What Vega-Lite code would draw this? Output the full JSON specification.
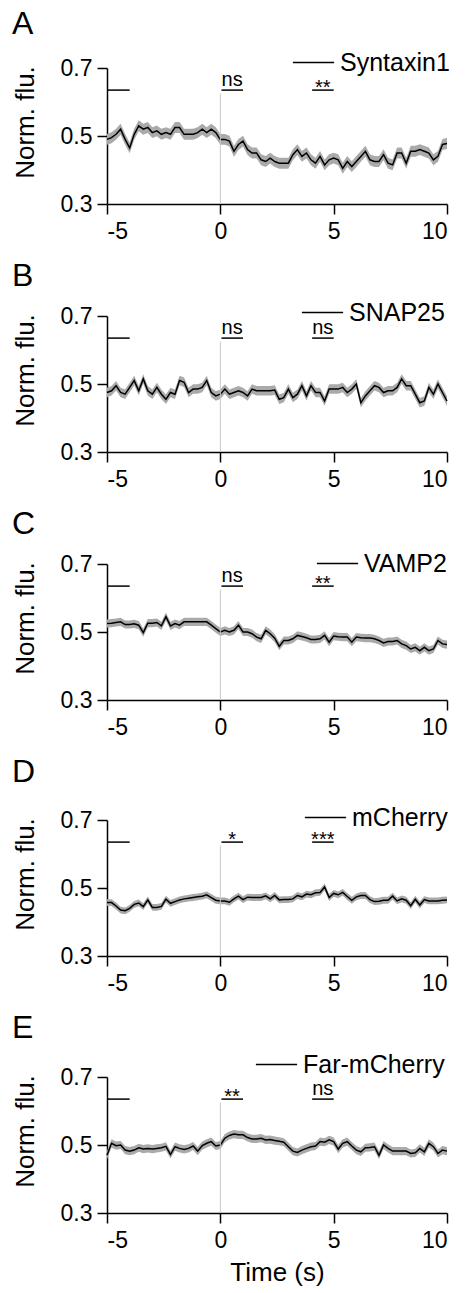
{
"$schema": "https://vega.github.io/schema/vega-lite/v6.json",
"background": "white",
"padding": {"left": 12, "top": 8, "right": 5, "bottom": 2},
"spacing": 17,
"config": {
  "font": "Liberation Sans",
  "view": {"stroke": null},
  "axis": {"grid": false, "domainColor": "black", "tickColor": "black", "domainWidth": 1.5, "tickWidth": 1.5, "tickSize": 10, "labelFontSize": 23, "labelColor": "black", "titleFontSize": 26, "titleFontWeight": "normal", "titleColor": "black", "labelFont": "Liberation Sans", "titleFont": "Liberation Sans"},
  "axisX": {"labelPadding": 6, "titlePadding": 7, "labelExpr": "'' + datum.value"},
  "axisY": {"labelPadding": 5, "titlePadding": 22},
  "title": {"fontSize": 32, "fontWeight": "normal", "anchor": "start", "color": "black", "font": "Liberation Sans", "frame": "bounds"},
  "legend": {"orient": "none", "symbolType": "stroke", "symbolSize": 1700, "symbolStrokeWidth": 1.5, "labelFontSize": 25, "labelFont": "Liberation Sans", "labelColor": "black", "padding": 0, "labelOffset": 5}
},
"resolve": {"scale": {"color": "independent"}, "legend": {"color": "independent"}},
"datasets": {
  "A": [{"t":-5,"m":0.49,"e":0.016},{"t":-4.8,"m":0.495,"e":0.016},{"t":-4.6,"m":0.505,"e":0.016},{"t":-4.4,"m":0.52,"e":0.016},{"t":-4.2,"m":0.49,"e":0.016},{"t":-4,"m":0.465,"e":0.016},{"t":-3.8,"m":0.505,"e":0.016},{"t":-3.6,"m":0.53,"e":0.016},{"t":-3.4,"m":0.52,"e":0.016},{"t":-3.2,"m":0.525,"e":0.016},{"t":-3,"m":0.51,"e":0.016},{"t":-2.8,"m":0.515,"e":0.016},{"t":-2.6,"m":0.505,"e":0.016},{"t":-2.4,"m":0.51,"e":0.016},{"t":-2.2,"m":0.505,"e":0.016},{"t":-2,"m":0.525,"e":0.016},{"t":-1.8,"m":0.525,"e":0.016},{"t":-1.6,"m":0.505,"e":0.016},{"t":-1.4,"m":0.505,"e":0.016},{"t":-1.2,"m":0.505,"e":0.016},{"t":-1,"m":0.51,"e":0.016},{"t":-0.8,"m":0.52,"e":0.016},{"t":-0.6,"m":0.51,"e":0.016},{"t":-0.4,"m":0.52,"e":0.016},{"t":-0.2,"m":0.51,"e":0.016},{"t":0,"m":0.49,"e":0.016},{"t":0.2,"m":0.49,"e":0.016},{"t":0.4,"m":0.485,"e":0.016},{"t":0.6,"m":0.455,"e":0.016},{"t":0.8,"m":0.475,"e":0.016},{"t":1,"m":0.485,"e":0.016},{"t":1.2,"m":0.46,"e":0.016},{"t":1.4,"m":0.45,"e":0.016},{"t":1.6,"m":0.45,"e":0.016},{"t":1.8,"m":0.43,"e":0.016},{"t":2,"m":0.425,"e":0.016},{"t":2.2,"m":0.435,"e":0.016},{"t":2.4,"m":0.425,"e":0.016},{"t":2.6,"m":0.42,"e":0.016},{"t":2.8,"m":0.42,"e":0.016},{"t":3,"m":0.42,"e":0.016},{"t":3.2,"m":0.445,"e":0.016},{"t":3.4,"m":0.46,"e":0.016},{"t":3.6,"m":0.44,"e":0.016},{"t":3.8,"m":0.45,"e":0.016},{"t":4,"m":0.43,"e":0.016},{"t":4.2,"m":0.42,"e":0.016},{"t":4.4,"m":0.44,"e":0.016},{"t":4.6,"m":0.415,"e":0.016},{"t":4.8,"m":0.43,"e":0.016},{"t":5,"m":0.435,"e":0.016},{"t":5.2,"m":0.43,"e":0.016},{"t":5.4,"m":0.405,"e":0.016},{"t":5.6,"m":0.425,"e":0.016},{"t":5.8,"m":0.41,"e":0.016},{"t":6,"m":0.425,"e":0.016},{"t":6.2,"m":0.44,"e":0.016},{"t":6.4,"m":0.455,"e":0.016},{"t":6.6,"m":0.43,"e":0.016},{"t":6.8,"m":0.425,"e":0.016},{"t":7,"m":0.425,"e":0.016},{"t":7.2,"m":0.445,"e":0.016},{"t":7.4,"m":0.42,"e":0.016},{"t":7.6,"m":0.415,"e":0.016},{"t":7.8,"m":0.45,"e":0.016},{"t":8,"m":0.45,"e":0.016},{"t":8.2,"m":0.42,"e":0.016},{"t":8.4,"m":0.455,"e":0.016},{"t":8.6,"m":0.455,"e":0.016},{"t":8.8,"m":0.46,"e":0.016},{"t":9,"m":0.455,"e":0.016},{"t":9.2,"m":0.45,"e":0.016},{"t":9.4,"m":0.43,"e":0.016},{"t":9.6,"m":0.44,"e":0.016},{"t":9.8,"m":0.475,"e":0.016},{"t":10,"m":0.478,"e":0.016}],
  "B": [{"t":-5,"m":0.475,"e":0.014},{"t":-4.8,"m":0.48,"e":0.014},{"t":-4.6,"m":0.495,"e":0.014},{"t":-4.4,"m":0.475,"e":0.014},{"t":-4.2,"m":0.47,"e":0.014},{"t":-4,"m":0.49,"e":0.014},{"t":-3.8,"m":0.51,"e":0.014},{"t":-3.6,"m":0.48,"e":0.014},{"t":-3.4,"m":0.515,"e":0.014},{"t":-3.2,"m":0.48,"e":0.014},{"t":-3,"m":0.47,"e":0.014},{"t":-2.8,"m":0.49,"e":0.014},{"t":-2.6,"m":0.47,"e":0.014},{"t":-2.4,"m":0.455,"e":0.014},{"t":-2.2,"m":0.475,"e":0.014},{"t":-2,"m":0.47,"e":0.014},{"t":-1.8,"m":0.51,"e":0.014},{"t":-1.6,"m":0.505,"e":0.014},{"t":-1.4,"m":0.475,"e":0.014},{"t":-1.2,"m":0.485,"e":0.014},{"t":-1,"m":0.485,"e":0.014},{"t":-0.8,"m":0.49,"e":0.014},{"t":-0.6,"m":0.51,"e":0.014},{"t":-0.4,"m":0.475,"e":0.014},{"t":-0.2,"m":0.465,"e":0.014},{"t":0,"m":0.47,"e":0.014},{"t":0.2,"m":0.485,"e":0.014},{"t":0.4,"m":0.47,"e":0.014},{"t":0.6,"m":0.475,"e":0.014},{"t":0.8,"m":0.48,"e":0.014},{"t":1,"m":0.475,"e":0.014},{"t":1.2,"m":0.465,"e":0.014},{"t":1.4,"m":0.485,"e":0.014},{"t":1.6,"m":0.48,"e":0.014},{"t":1.8,"m":0.48,"e":0.014},{"t":2,"m":0.48,"e":0.014},{"t":2.2,"m":0.48,"e":0.014},{"t":2.4,"m":0.482,"e":0.014},{"t":2.6,"m":0.455,"e":0.014},{"t":2.8,"m":0.46,"e":0.014},{"t":3,"m":0.485,"e":0.014},{"t":3.2,"m":0.46,"e":0.014},{"t":3.4,"m":0.47,"e":0.014},{"t":3.6,"m":0.495,"e":0.014},{"t":3.8,"m":0.465,"e":0.014},{"t":4,"m":0.495,"e":0.014},{"t":4.2,"m":0.475,"e":0.014},{"t":4.4,"m":0.475,"e":0.014},{"t":4.6,"m":0.45,"e":0.014},{"t":4.8,"m":0.485,"e":0.014},{"t":5,"m":0.485,"e":0.014},{"t":5.2,"m":0.485,"e":0.014},{"t":5.4,"m":0.49,"e":0.014},{"t":5.6,"m":0.475,"e":0.014},{"t":5.8,"m":0.485,"e":0.014},{"t":6,"m":0.5,"e":0.014},{"t":6.2,"m":0.445,"e":0.014},{"t":6.4,"m":0.465,"e":0.014},{"t":6.6,"m":0.48,"e":0.014},{"t":6.8,"m":0.495,"e":0.014},{"t":7,"m":0.49,"e":0.014},{"t":7.2,"m":0.475,"e":0.014},{"t":7.4,"m":0.48,"e":0.014},{"t":7.6,"m":0.48,"e":0.014},{"t":7.8,"m":0.49,"e":0.014},{"t":8,"m":0.515,"e":0.014},{"t":8.2,"m":0.495,"e":0.014},{"t":8.4,"m":0.495,"e":0.014},{"t":8.6,"m":0.47,"e":0.014},{"t":8.8,"m":0.445,"e":0.014},{"t":9,"m":0.45,"e":0.014},{"t":9.2,"m":0.49,"e":0.014},{"t":9.4,"m":0.47,"e":0.014},{"t":9.6,"m":0.5,"e":0.014},{"t":9.8,"m":0.475,"e":0.014},{"t":10,"m":0.45,"e":0.014}],
  "C": [{"t":-5,"m":0.525,"e":0.012},{"t":-4.8,"m":0.526,"e":0.012},{"t":-4.6,"m":0.528,"e":0.012},{"t":-4.4,"m":0.53,"e":0.012},{"t":-4.2,"m":0.522,"e":0.012},{"t":-4,"m":0.522,"e":0.012},{"t":-3.8,"m":0.524,"e":0.012},{"t":-3.6,"m":0.52,"e":0.012},{"t":-3.4,"m":0.498,"e":0.012},{"t":-3.2,"m":0.526,"e":0.012},{"t":-3,"m":0.526,"e":0.012},{"t":-2.8,"m":0.528,"e":0.012},{"t":-2.6,"m":0.518,"e":0.012},{"t":-2.4,"m":0.545,"e":0.012},{"t":-2.2,"m":0.518,"e":0.012},{"t":-2,"m":0.525,"e":0.012},{"t":-1.8,"m":0.52,"e":0.012},{"t":-1.6,"m":0.53,"e":0.012},{"t":-1.4,"m":0.53,"e":0.012},{"t":-1.2,"m":0.53,"e":0.012},{"t":-1,"m":0.53,"e":0.012},{"t":-0.8,"m":0.53,"e":0.012},{"t":-0.6,"m":0.53,"e":0.012},{"t":-0.4,"m":0.52,"e":0.012},{"t":-0.2,"m":0.51,"e":0.012},{"t":0,"m":0.5,"e":0.012},{"t":0.2,"m":0.505,"e":0.012},{"t":0.4,"m":0.5,"e":0.012},{"t":0.6,"m":0.505,"e":0.012},{"t":0.8,"m":0.52,"e":0.012},{"t":1,"m":0.5,"e":0.012},{"t":1.2,"m":0.5,"e":0.012},{"t":1.4,"m":0.495,"e":0.012},{"t":1.6,"m":0.485,"e":0.012},{"t":1.8,"m":0.48,"e":0.012},{"t":2,"m":0.505,"e":0.012},{"t":2.2,"m":0.495,"e":0.012},{"t":2.4,"m":0.482,"e":0.012},{"t":2.6,"m":0.458,"e":0.012},{"t":2.8,"m":0.475,"e":0.012},{"t":3,"m":0.475,"e":0.012},{"t":3.2,"m":0.48,"e":0.012},{"t":3.4,"m":0.49,"e":0.012},{"t":3.6,"m":0.487,"e":0.012},{"t":3.8,"m":0.483,"e":0.012},{"t":4,"m":0.478,"e":0.012},{"t":4.2,"m":0.478,"e":0.012},{"t":4.4,"m":0.48,"e":0.012},{"t":4.6,"m":0.49,"e":0.012},{"t":4.8,"m":0.47,"e":0.012},{"t":5,"m":0.488,"e":0.012},{"t":5.2,"m":0.486,"e":0.012},{"t":5.4,"m":0.485,"e":0.012},{"t":5.6,"m":0.485,"e":0.012},{"t":5.8,"m":0.47,"e":0.012},{"t":6,"m":0.485,"e":0.012},{"t":6.2,"m":0.483,"e":0.012},{"t":6.4,"m":0.482,"e":0.012},{"t":6.6,"m":0.482,"e":0.012},{"t":6.8,"m":0.48,"e":0.012},{"t":7,"m":0.475,"e":0.012},{"t":7.2,"m":0.468,"e":0.012},{"t":7.4,"m":0.472,"e":0.012},{"t":7.6,"m":0.472,"e":0.012},{"t":7.8,"m":0.475,"e":0.012},{"t":8,"m":0.465,"e":0.012},{"t":8.2,"m":0.46,"e":0.012},{"t":8.4,"m":0.45,"e":0.012},{"t":8.6,"m":0.455,"e":0.012},{"t":8.8,"m":0.445,"e":0.012},{"t":9,"m":0.455,"e":0.012},{"t":9.2,"m":0.445,"e":0.012},{"t":9.4,"m":0.45,"e":0.012},{"t":9.6,"m":0.475,"e":0.012},{"t":9.8,"m":0.465,"e":0.012},{"t":10,"m":0.463,"e":0.012}],
  "D": [{"t":-5,"m":0.457,"e":0.01},{"t":-4.8,"m":0.457,"e":0.01},{"t":-4.6,"m":0.447,"e":0.01},{"t":-4.4,"m":0.435,"e":0.01},{"t":-4.2,"m":0.433,"e":0.01},{"t":-4,"m":0.44,"e":0.01},{"t":-3.8,"m":0.452,"e":0.01},{"t":-3.6,"m":0.456,"e":0.01},{"t":-3.4,"m":0.445,"e":0.01},{"t":-3.2,"m":0.465,"e":0.01},{"t":-3,"m":0.443,"e":0.01},{"t":-2.8,"m":0.443,"e":0.01},{"t":-2.6,"m":0.446,"e":0.01},{"t":-2.4,"m":0.467,"e":0.01},{"t":-2.2,"m":0.455,"e":0.01},{"t":-2,"m":0.46,"e":0.01},{"t":-1.8,"m":0.465,"e":0.01},{"t":-1.6,"m":0.468,"e":0.01},{"t":-1.4,"m":0.47,"e":0.01},{"t":-1.2,"m":0.472,"e":0.01},{"t":-1,"m":0.474,"e":0.01},{"t":-0.8,"m":0.476,"e":0.01},{"t":-0.6,"m":0.48,"e":0.01},{"t":-0.4,"m":0.472,"e":0.01},{"t":-0.2,"m":0.464,"e":0.01},{"t":0,"m":0.462,"e":0.01},{"t":0.2,"m":0.462,"e":0.01},{"t":0.4,"m":0.458,"e":0.01},{"t":0.6,"m":0.468,"e":0.01},{"t":0.8,"m":0.476,"e":0.01},{"t":1,"m":0.466,"e":0.01},{"t":1.2,"m":0.473,"e":0.01},{"t":1.4,"m":0.472,"e":0.01},{"t":1.6,"m":0.472,"e":0.01},{"t":1.8,"m":0.472,"e":0.01},{"t":2,"m":0.477,"e":0.01},{"t":2.2,"m":0.468,"e":0.01},{"t":2.4,"m":0.478,"e":0.01},{"t":2.6,"m":0.465,"e":0.01},{"t":2.8,"m":0.466,"e":0.01},{"t":3,"m":0.466,"e":0.01},{"t":3.2,"m":0.468,"e":0.01},{"t":3.4,"m":0.478,"e":0.01},{"t":3.6,"m":0.474,"e":0.01},{"t":3.8,"m":0.482,"e":0.01},{"t":4,"m":0.48,"e":0.01},{"t":4.2,"m":0.486,"e":0.01},{"t":4.4,"m":0.487,"e":0.01},{"t":4.6,"m":0.503,"e":0.01},{"t":4.8,"m":0.472,"e":0.01},{"t":5,"m":0.484,"e":0.01},{"t":5.2,"m":0.48,"e":0.01},{"t":5.4,"m":0.487,"e":0.01},{"t":5.6,"m":0.475,"e":0.01},{"t":5.8,"m":0.464,"e":0.01},{"t":6,"m":0.474,"e":0.01},{"t":6.2,"m":0.478,"e":0.01},{"t":6.4,"m":0.478,"e":0.01},{"t":6.6,"m":0.466,"e":0.01},{"t":6.8,"m":0.46,"e":0.01},{"t":7,"m":0.461,"e":0.01},{"t":7.2,"m":0.464,"e":0.01},{"t":7.4,"m":0.464,"e":0.01},{"t":7.6,"m":0.476,"e":0.01},{"t":7.8,"m":0.462,"e":0.01},{"t":8,"m":0.468,"e":0.01},{"t":8.2,"m":0.464,"e":0.01},{"t":8.4,"m":0.448,"e":0.01},{"t":8.6,"m":0.467,"e":0.01},{"t":8.8,"m":0.45,"e":0.01},{"t":9,"m":0.466,"e":0.01},{"t":9.2,"m":0.462,"e":0.01},{"t":9.4,"m":0.462,"e":0.01},{"t":9.6,"m":0.462,"e":0.01},{"t":9.8,"m":0.464,"e":0.01},{"t":10,"m":0.465,"e":0.01}],
  "E": [{"t":-5,"m":0.47,"e":0.012},{"t":-4.8,"m":0.505,"e":0.012},{"t":-4.6,"m":0.498,"e":0.012},{"t":-4.4,"m":0.5,"e":0.012},{"t":-4.2,"m":0.485,"e":0.012},{"t":-4,"m":0.482,"e":0.012},{"t":-3.8,"m":0.485,"e":0.012},{"t":-3.6,"m":0.492,"e":0.012},{"t":-3.4,"m":0.488,"e":0.012},{"t":-3.2,"m":0.49,"e":0.012},{"t":-3,"m":0.488,"e":0.012},{"t":-2.8,"m":0.49,"e":0.012},{"t":-2.6,"m":0.492,"e":0.012},{"t":-2.4,"m":0.496,"e":0.012},{"t":-2.2,"m":0.472,"e":0.012},{"t":-2,"m":0.495,"e":0.012},{"t":-1.8,"m":0.49,"e":0.012},{"t":-1.6,"m":0.487,"e":0.012},{"t":-1.4,"m":0.49,"e":0.012},{"t":-1.2,"m":0.497,"e":0.012},{"t":-1,"m":0.482,"e":0.012},{"t":-0.8,"m":0.498,"e":0.012},{"t":-0.6,"m":0.505,"e":0.012},{"t":-0.4,"m":0.51,"e":0.012},{"t":-0.2,"m":0.497,"e":0.012},{"t":0,"m":0.5,"e":0.012},{"t":0.2,"m":0.52,"e":0.012},{"t":0.4,"m":0.528,"e":0.012},{"t":0.6,"m":0.532,"e":0.012},{"t":0.8,"m":0.53,"e":0.012},{"t":1,"m":0.53,"e":0.012},{"t":1.2,"m":0.522,"e":0.012},{"t":1.4,"m":0.518,"e":0.012},{"t":1.6,"m":0.518,"e":0.012},{"t":1.8,"m":0.52,"e":0.012},{"t":2,"m":0.515,"e":0.012},{"t":2.2,"m":0.516,"e":0.012},{"t":2.4,"m":0.513,"e":0.012},{"t":2.6,"m":0.511,"e":0.012},{"t":2.8,"m":0.508,"e":0.012},{"t":3,"m":0.495,"e":0.012},{"t":3.2,"m":0.482,"e":0.012},{"t":3.4,"m":0.478,"e":0.012},{"t":3.6,"m":0.485,"e":0.012},{"t":3.8,"m":0.49,"e":0.012},{"t":4,"m":0.495,"e":0.012},{"t":4.2,"m":0.497,"e":0.012},{"t":4.4,"m":0.51,"e":0.012},{"t":4.6,"m":0.508,"e":0.012},{"t":4.8,"m":0.515,"e":0.012},{"t":5,"m":0.51,"e":0.012},{"t":5.2,"m":0.488,"e":0.012},{"t":5.4,"m":0.505,"e":0.012},{"t":5.6,"m":0.51,"e":0.012},{"t":5.8,"m":0.497,"e":0.012},{"t":6,"m":0.485,"e":0.012},{"t":6.2,"m":0.48,"e":0.012},{"t":6.4,"m":0.492,"e":0.012},{"t":6.6,"m":0.493,"e":0.012},{"t":6.8,"m":0.495,"e":0.012},{"t":7,"m":0.47,"e":0.012},{"t":7.2,"m":0.5,"e":0.012},{"t":7.4,"m":0.49,"e":0.012},{"t":7.6,"m":0.482,"e":0.012},{"t":7.8,"m":0.482,"e":0.012},{"t":8,"m":0.482,"e":0.012},{"t":8.2,"m":0.482,"e":0.012},{"t":8.4,"m":0.475,"e":0.012},{"t":8.6,"m":0.477,"e":0.012},{"t":8.8,"m":0.49,"e":0.012},{"t":9,"m":0.48,"e":0.012},{"t":9.2,"m":0.505,"e":0.012},{"t":9.4,"m":0.495,"e":0.012},{"t":9.6,"m":0.475,"e":0.012},{"t":9.8,"m":0.485,"e":0.012},{"t":10,"m":0.482,"e":0.012}],
  "sigA": [{"x1":-5,"x2":-4,"xm":-4.5,"y":0.635,"lab":""},{"x1":0.05,"x2":1,"xm":0.52,"y":0.635,"lab":"ns"},{"x1":4.05,"x2":5,"xm":4.52,"y":0.635,"lab":"**"}],
  "sigB": [{"x1":-5,"x2":-4,"xm":-4.5,"y":0.635,"lab":""},{"x1":0.05,"x2":1,"xm":0.52,"y":0.635,"lab":"ns"},{"x1":4.05,"x2":5,"xm":4.52,"y":0.635,"lab":"ns"}],
  "sigC": [{"x1":-5,"x2":-4,"xm":-4.5,"y":0.635,"lab":""},{"x1":0.05,"x2":1,"xm":0.52,"y":0.635,"lab":"ns"},{"x1":4.05,"x2":5,"xm":4.52,"y":0.635,"lab":"**"}],
  "sigD": [{"x1":-5,"x2":-4,"xm":-4.5,"y":0.635,"lab":""},{"x1":0.05,"x2":1,"xm":0.52,"y":0.635,"lab":"*"},{"x1":4.05,"x2":5,"xm":4.52,"y":0.635,"lab":"***"}],
  "sigE": [{"x1":-5,"x2":-4,"xm":-4.5,"y":0.635,"lab":""},{"x1":0.05,"x2":1,"xm":0.52,"y":0.635,"lab":"**"},{"x1":4.05,"x2":5,"xm":4.52,"y":0.635,"lab":"ns"}],
  "zero": [{"x":0,"y1":0.3,"y2":0.625}]
},
"vconcat": [
 {"title": {"text": "A", "offset": 0}, "width": 340, "height": 136, "layer": [
  {"data": {"name": "A"}, "mark": {"type": "errorband", "color": "#aaaaaa", "opacity": 1},
   "encoding": {"x": {"field": "t", "type": "quantitative", "title": null, "scale": {"domain": [-5, 10], "nice": false}, "axis": {"values": [-5, 0, 5, 10]}},
    "y": {"field": "m", "type": "quantitative", "title": "Norm. flu.", "scale": {"domain": [0.3, 0.7], "nice": false, "zero": false}, "axis": {"values": [0.3, 0.5, 0.7], "format": ".1f", "titleY": 54}}, "yError": {"field": "e"}}},
  {"data": {"name": "A"}, "mark": {"type": "line", "strokeWidth": 1.5},
   "encoding": {"x": {"field": "t", "type": "quantitative", "title": null}, "y": {"field": "m", "type": "quantitative", "title": "Norm. flu."},
    "color": {"datum": "Syntaxin1", "type": "nominal", "scale": {"range": ["black"]}, "legend": {"title": null, "legendX": 185, "legendY": -27}}}},
  {"data": {"name": "zero"}, "mark": {"type": "rule", "color": "#c8c8c8", "strokeWidth": 1},
   "encoding": {"x": {"field": "x", "type": "quantitative", "title": null}, "y": {"field": "y1", "type": "quantitative", "title": "Norm. flu."}, "y2": {"field": "y2"}}},
  {"data": {"name": "sigA"}, "mark": {"type": "rule", "color": "black", "strokeWidth": 1.5},
   "encoding": {"x": {"field": "x1", "type": "quantitative", "title": null}, "x2": {"field": "x2"}, "y": {"field": "y", "type": "quantitative", "title": "Norm. flu."}}},
  {"data": {"name": "sigA"}, "transform": [{"filter": "datum.lab == 'ns'"}], "mark": {"type": "text", "fontSize": 20, "baseline": "alphabetic", "dy": -4, "color": "black"},
   "encoding": {"x": {"field": "xm", "type": "quantitative", "title": null}, "y": {"field": "y", "type": "quantitative", "title": "Norm. flu."}, "text": {"field": "lab"}}},
  {"data": {"name": "sigA"}, "transform": [{"filter": "datum.lab != 'ns'"}], "mark": {"type": "text", "fontSize": 20, "baseline": "alphabetic", "dy": 4, "color": "black"},
   "encoding": {"x": {"field": "xm", "type": "quantitative", "title": null}, "y": {"field": "y", "type": "quantitative", "title": "Norm. flu."}, "text": {"field": "lab"}}}
 ]},
 {"title": {"text": "B", "offset": -2}, "width": 340, "height": 136, "layer": [
  {"data": {"name": "B"}, "mark": {"type": "errorband", "color": "#aaaaaa", "opacity": 1},
   "encoding": {"x": {"field": "t", "type": "quantitative", "title": null, "scale": {"domain": [-5, 10], "nice": false}, "axis": {"values": [-5, 0, 5, 10]}},
    "y": {"field": "m", "type": "quantitative", "title": "Norm. flu.", "scale": {"domain": [0.3, 0.7], "nice": false, "zero": false}, "axis": {"values": [0.3, 0.5, 0.7], "format": ".1f", "titleY": 54}}, "yError": {"field": "e"}}},
  {"data": {"name": "B"}, "mark": {"type": "line", "strokeWidth": 1.5},
   "encoding": {"x": {"field": "t", "type": "quantitative", "title": null}, "y": {"field": "m", "type": "quantitative", "title": "Norm. flu."},
    "color": {"datum": "SNAP25", "type": "nominal", "scale": {"range": ["black"]}, "legend": {"title": null, "legendX": 194, "legendY": -25}}}},
  {"data": {"name": "zero"}, "mark": {"type": "rule", "color": "#c8c8c8", "strokeWidth": 1},
   "encoding": {"x": {"field": "x", "type": "quantitative", "title": null}, "y": {"field": "y1", "type": "quantitative", "title": "Norm. flu."}, "y2": {"field": "y2"}}},
  {"data": {"name": "sigB"}, "mark": {"type": "rule", "color": "black", "strokeWidth": 1.5},
   "encoding": {"x": {"field": "x1", "type": "quantitative", "title": null}, "x2": {"field": "x2"}, "y": {"field": "y", "type": "quantitative", "title": "Norm. flu."}}},
  {"data": {"name": "sigB"}, "transform": [{"filter": "datum.lab == 'ns'"}], "mark": {"type": "text", "fontSize": 20, "baseline": "alphabetic", "dy": -4, "color": "black"},
   "encoding": {"x": {"field": "xm", "type": "quantitative", "title": null}, "y": {"field": "y", "type": "quantitative", "title": "Norm. flu."}, "text": {"field": "lab"}}},
  {"data": {"name": "sigB"}, "transform": [{"filter": "datum.lab != 'ns'"}], "mark": {"type": "text", "fontSize": 20, "baseline": "alphabetic", "dy": 4, "color": "black"},
   "encoding": {"x": {"field": "xm", "type": "quantitative", "title": null}, "y": {"field": "y", "type": "quantitative", "title": "Norm. flu."}, "text": {"field": "lab"}}}
 ]},
 {"title": {"text": "C", "offset": 1}, "width": 340, "height": 136, "layer": [
  {"data": {"name": "C"}, "mark": {"type": "errorband", "color": "#aaaaaa", "opacity": 1},
   "encoding": {"x": {"field": "t", "type": "quantitative", "title": null, "scale": {"domain": [-5, 10], "nice": false}, "axis": {"values": [-5, 0, 5, 10]}},
    "y": {"field": "m", "type": "quantitative", "title": "Norm. flu.", "scale": {"domain": [0.3, 0.7], "nice": false, "zero": false}, "axis": {"values": [0.3, 0.5, 0.7], "format": ".1f", "titleY": 54}}, "yError": {"field": "e"}}},
  {"data": {"name": "C"}, "mark": {"type": "line", "strokeWidth": 1.5},
   "encoding": {"x": {"field": "t", "type": "quantitative", "title": null}, "y": {"field": "m", "type": "quantitative", "title": "Norm. flu."},
    "color": {"datum": "VAMP2", "type": "nominal", "scale": {"range": ["black"]}, "legend": {"title": null, "legendX": 209, "legendY": -22}}}},
  {"data": {"name": "zero"}, "mark": {"type": "rule", "color": "#c8c8c8", "strokeWidth": 1},
   "encoding": {"x": {"field": "x", "type": "quantitative", "title": null}, "y": {"field": "y1", "type": "quantitative", "title": "Norm. flu."}, "y2": {"field": "y2"}}},
  {"data": {"name": "sigC"}, "mark": {"type": "rule", "color": "black", "strokeWidth": 1.5},
   "encoding": {"x": {"field": "x1", "type": "quantitative", "title": null}, "x2": {"field": "x2"}, "y": {"field": "y", "type": "quantitative", "title": "Norm. flu."}}},
  {"data": {"name": "sigC"}, "transform": [{"filter": "datum.lab == 'ns'"}], "mark": {"type": "text", "fontSize": 20, "baseline": "alphabetic", "dy": -4, "color": "black"},
   "encoding": {"x": {"field": "xm", "type": "quantitative", "title": null}, "y": {"field": "y", "type": "quantitative", "title": "Norm. flu."}, "text": {"field": "lab"}}},
  {"data": {"name": "sigC"}, "transform": [{"filter": "datum.lab != 'ns'"}], "mark": {"type": "text", "fontSize": 20, "baseline": "alphabetic", "dy": 4, "color": "black"},
   "encoding": {"x": {"field": "xm", "type": "quantitative", "title": null}, "y": {"field": "y", "type": "quantitative", "title": "Norm. flu."}, "text": {"field": "lab"}}}
 ]},
 {"title": {"text": "D", "offset": 7}, "width": 340, "height": 136, "layer": [
  {"data": {"name": "D"}, "mark": {"type": "errorband", "color": "#aaaaaa", "opacity": 1},
   "encoding": {"x": {"field": "t", "type": "quantitative", "title": null, "scale": {"domain": [-5, 10], "nice": false}, "axis": {"values": [-5, 0, 5, 10]}},
    "y": {"field": "m", "type": "quantitative", "title": "Norm. flu.", "scale": {"domain": [0.3, 0.7], "nice": false, "zero": false}, "axis": {"values": [0.3, 0.5, 0.7], "format": ".1f", "titleY": 54}}, "yError": {"field": "e"}}},
  {"data": {"name": "D"}, "mark": {"type": "line", "strokeWidth": 1.5},
   "encoding": {"x": {"field": "t", "type": "quantitative", "title": null}, "y": {"field": "m", "type": "quantitative", "title": "Norm. flu."},
    "color": {"datum": "mCherry", "type": "nominal", "scale": {"range": ["black"]}, "legend": {"title": null, "legendX": 197, "legendY": -24}}}},
  {"data": {"name": "zero"}, "mark": {"type": "rule", "color": "#c8c8c8", "strokeWidth": 1},
   "encoding": {"x": {"field": "x", "type": "quantitative", "title": null}, "y": {"field": "y1", "type": "quantitative", "title": "Norm. flu."}, "y2": {"field": "y2"}}},
  {"data": {"name": "sigD"}, "mark": {"type": "rule", "color": "black", "strokeWidth": 1.5},
   "encoding": {"x": {"field": "x1", "type": "quantitative", "title": null}, "x2": {"field": "x2"}, "y": {"field": "y", "type": "quantitative", "title": "Norm. flu."}}},
  {"data": {"name": "sigD"}, "transform": [{"filter": "datum.lab == 'ns'"}], "mark": {"type": "text", "fontSize": 20, "baseline": "alphabetic", "dy": -4, "color": "black"},
   "encoding": {"x": {"field": "xm", "type": "quantitative", "title": null}, "y": {"field": "y", "type": "quantitative", "title": "Norm. flu."}, "text": {"field": "lab"}}},
  {"data": {"name": "sigD"}, "transform": [{"filter": "datum.lab != 'ns'"}], "mark": {"type": "text", "fontSize": 20, "baseline": "alphabetic", "dy": 4, "color": "black"},
   "encoding": {"x": {"field": "xm", "type": "quantitative", "title": null}, "y": {"field": "y", "type": "quantitative", "title": "Norm. flu."}, "text": {"field": "lab"}}}
 ]},
 {"title": {"text": "E", "offset": -2}, "width": 340, "height": 136, "layer": [
  {"data": {"name": "E"}, "mark": {"type": "errorband", "color": "#aaaaaa", "opacity": 1},
   "encoding": {"x": {"field": "t", "type": "quantitative", "title": "Time (s)", "scale": {"domain": [-5, 10], "nice": false}, "axis": {"values": [-5, 0, 5, 10]}},
    "y": {"field": "m", "type": "quantitative", "title": "Norm. flu.", "scale": {"domain": [0.3, 0.7], "nice": false, "zero": false}, "axis": {"values": [0.3, 0.5, 0.7], "format": ".1f", "titleY": 54}}, "yError": {"field": "e"}}},
  {"data": {"name": "E"}, "mark": {"type": "line", "strokeWidth": 1.5},
   "encoding": {"x": {"field": "t", "type": "quantitative", "title": "Time (s)"}, "y": {"field": "m", "type": "quantitative", "title": "Norm. flu."},
    "color": {"datum": "Far-mCherry", "type": "nominal", "scale": {"range": ["black"]}, "legend": {"title": null, "legendX": 148, "legendY": -34}}}},
  {"data": {"name": "zero"}, "mark": {"type": "rule", "color": "#c8c8c8", "strokeWidth": 1},
   "encoding": {"x": {"field": "x", "type": "quantitative", "title": "Time (s)"}, "y": {"field": "y1", "type": "quantitative", "title": "Norm. flu."}, "y2": {"field": "y2"}}},
  {"data": {"name": "sigE"}, "mark": {"type": "rule", "color": "black", "strokeWidth": 1.5},
   "encoding": {"x": {"field": "x1", "type": "quantitative", "title": "Time (s)"}, "x2": {"field": "x2"}, "y": {"field": "y", "type": "quantitative", "title": "Norm. flu."}}},
  {"data": {"name": "sigE"}, "transform": [{"filter": "datum.lab == 'ns'"}], "mark": {"type": "text", "fontSize": 20, "baseline": "alphabetic", "dy": -4, "color": "black"},
   "encoding": {"x": {"field": "xm", "type": "quantitative", "title": "Time (s)"}, "y": {"field": "y", "type": "quantitative", "title": "Norm. flu."}, "text": {"field": "lab"}}},
  {"data": {"name": "sigE"}, "transform": [{"filter": "datum.lab != 'ns'"}], "mark": {"type": "text", "fontSize": 20, "baseline": "alphabetic", "dy": 4, "color": "black"},
   "encoding": {"x": {"field": "xm", "type": "quantitative", "title": "Time (s)"}, "y": {"field": "y", "type": "quantitative", "title": "Norm. flu."}, "text": {"field": "lab"}}}
 ]}
]
}
